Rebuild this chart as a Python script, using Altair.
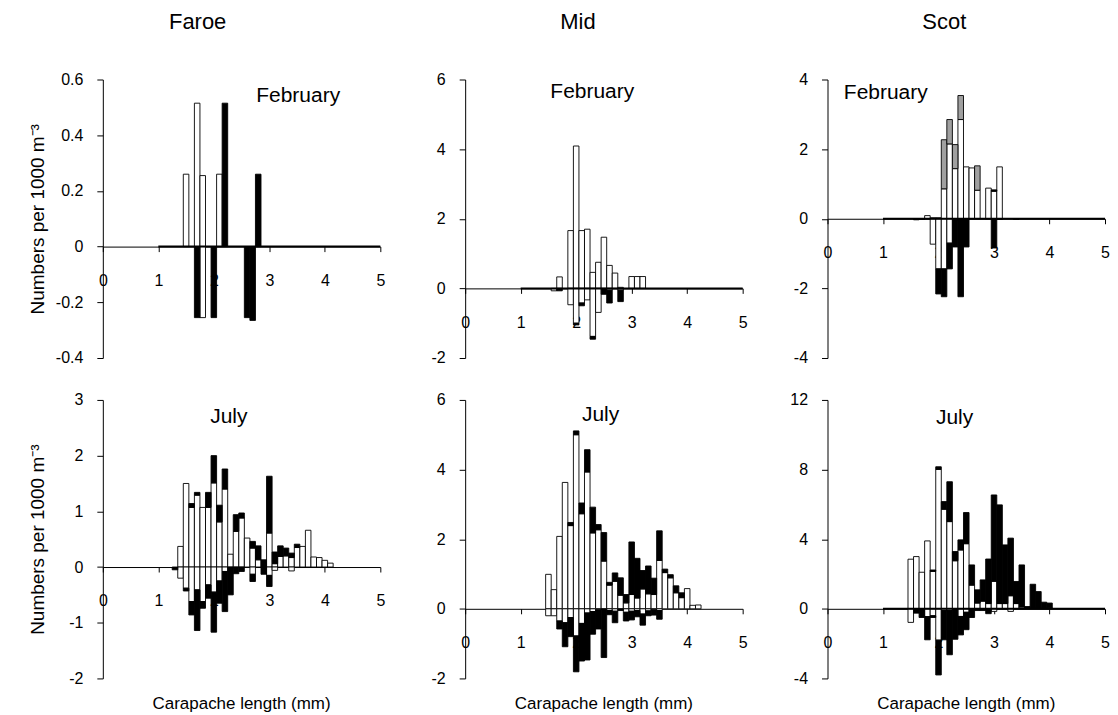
import altair as alt
import pandas as pd

FONT = "Liberation Sans"
W, H = 278, 279
X_TICKS = [0, 1, 2, 3, 4, 5]
HALF = 0.05

# ---------------- Faroe, February ----------------
FF_X = [1.5, 1.7, 1.8, 2.0, 2.1, 2.2, 2.6, 2.7, 2.8]
FF_PW = [0.26, 0.515, 0.255, 0, 0.26, 0, 0, 0, 0]
FF_PB = [0, 0, 0, 0, 0, 0.515, 0, 0, 0.26]
FF_NW = [0, 0, 0.255, 0, 0, 0, 0, 0, 0]
FF_NB = [0, 0.255, 0, 0.255, 0, 0, 0.255, 0.265, 0]
FF_TICKS = [-0.4, -0.2, 0, 0.2, 0.4, 0.6]

# ---------------- Mid, February ----------------
MF_X = [1.6, 1.7, 1.9, 2.0, 2.1, 2.2, 2.3, 2.4, 2.5, 2.6, 2.7, 2.8, 3.0, 3.1, 3.2]
MF_PW = [0, 0.33, 1.66, 4.09, 1.66, 1.70, 0.46, 0.75, 1.47, 0.66, 0.44, 0.03, 0.34, 0.34, 0.34]
MF_PB = [0] * 15
MF_NW = [0.07, 0, 0.47, 1.00, 0.42, 0.33, 1.38, 0.69, 0, 0.05, 0, 0.05, 0, 0, 0]
MF_NB = [0, 0.07, 0, 0.05, 0.08, 0, 0.08, 0, 0.17, 0.37, 0, 0.33, 0, 0, 0]
MF_TICKS = [-2, 0, 2, 4, 6]

# ---------------- Scot, February ----------------
SF_X = [1.6, 1.7, 1.8, 1.9, 2.0, 2.1, 2.2, 2.3, 2.4, 2.5, 2.6, 2.7, 2.9, 3.0, 3.1, 3.4]
SF_PW = [0, 0, 0.09, 0.03, 0.03, 0.86, 2.15, 1.44, 2.85, 1.49, 1.46, 0.82, 0.88, 0.79, 1.49, 0]
SF_PB = [0, 0, 0, 0, 0, 0, 0, 0, 0, 0, 0, 0, 0, 0.04, 0, 0]
SF_PG = [0, 0, 0, 0, 0, 1.41, 0.70, 0.69, 0.69, 0, 0, 0.70, 0, 0, 0, 0]
SF_NW = [0, 0, 0, 0.73, 1.44, 1.44, 0.70, 0.03, 0, 0, 0, 0, 0, 0, 0, 0]
SF_NB = [0.03, 0.02, 0, 0, 0.72, 0.80, 0.74, 0.78, 2.24, 0.81, 0, 0, 0, 0.84, 0.02, 0.02]
SF_TICKS = [-4, -2, 0, 2, 4]

# ---------------- Faroe, July ----------------
FJ_X = [1.3, 1.4, 1.5, 1.6, 1.7, 1.8, 1.9, 2.0, 2.1, 2.2, 2.3, 2.4, 2.5, 2.6, 2.7,
        2.8, 2.9, 3.0, 3.1, 3.2, 3.3, 3.4, 3.5, 3.6, 3.7, 3.8, 3.9, 4.0, 4.1]
FJ_PW = [0, 0.37, 1.50, 1.07, 1.29, 1.07, 1.07, 1.51, 0.81, 1.40, 0.23, 0.64, 0.88, 0.52, 0.34,
         0.13, 0, 0.61, 0.06, 0.19, 0.20, 0.17, 0.35, 0.37, 0.66, 0.18, 0.17, 0.12, 0.07]
FJ_PB = [0, 0, 0, 0.07, 0.05, 0, 0.27, 0.49, 0.30, 0.36, 0, 0.30, 0.09, 0, 0.12,
         0.25, 0.13, 1.02, 0.21, 0.19, 0.14, 0.08, 0.06, 0, 0, 0, 0, 0, 0]
FJ_NW = [0, 0.20, 0.38, 0.62, 0.41, 0.62, 0.32, 0.45, 0.25, 0.08, 0, 0, 0, 0, 0.13,
         0, 0, 0.15, 0.06, 0, 0, 0.07, 0, 0, 0, 0, 0, 0, 0]
FJ_NB = [0.05, 0, 0.05, 0.24, 0.73, 0.12, 0.24, 0.72, 0.40, 0.72, 0.50, 0.12, 0.08, 0, 0.13,
         0, 0.13, 0.20, 0, 0, 0, 0, 0, 0, 0, 0, 0, 0, 0]
FJ_TICKS = [-2, -1, 0, 1, 2, 3]

# ---------------- Mid, July ----------------
MJ_X = [1.5, 1.6, 1.7, 1.8, 1.9, 2.0, 2.1, 2.2, 2.3, 2.4, 2.5, 2.6, 2.7, 2.8,
        2.9, 3.0, 3.1, 3.2, 3.3, 3.4, 3.5, 3.6, 3.7, 3.8, 3.9, 4.0, 4.1, 4.2]
MJ_PW = [0.99, 0.55, 2.08, 3.63, 2.39, 5.00, 2.73, 3.93, 2.18, 2.27, 1.37, 0.68, 0.79, 0.39,
         0.17, 0.41, 0.31, 0.57, 0.43, 0.41, 1.39, 1.04, 0.89, 0.46, 0.32, 0.58, 0.10, 0.11]
MJ_PB = [0, 0, 0, 0, 0.09, 0.11, 0.31, 0.64, 0.74, 0.15, 0.82, 0.08, 0.24, 0.50,
         0.24, 1.51, 1.14, 0.53, 0.80, 0.47, 0.85, 0.10, 0.09, 0.20, 0.14, 0, 0, 0]
MJ_NW = [0.20, 0.20, 0.35, 0.40, 0.25, 0.78, 0.42, 0.12, 0.08, 0.03, 0, 0.05, 0.07, 0,
         0.10, 0.07, 0.05, 0.15, 0.06, 0.03, 0.05, 0, 0, 0, 0, 0, 0, 0]
MJ_NB = [0, 0, 0.23, 0.69, 0.55, 1.03, 1.08, 1.35, 0.65, 0.55, 1.40, 0.12, 0.33, 0.05,
         0.25, 0.25, 0.18, 0.32, 0.14, 0.15, 0.25, 0, 0, 0, 0, 0, 0, 0]
MJ_TICKS = [-2, 0, 2, 4, 6]

# ---------------- Scot, July ----------------
SJ_X = [1.5, 1.6, 1.7, 1.8, 1.9, 2.0, 2.1, 2.2, 2.3, 2.4, 2.5, 2.6, 2.7,
        2.8, 2.9, 3.0, 3.1, 3.2, 3.3, 3.4, 3.5, 3.6, 3.7, 3.8, 3.9, 4.0]
SJ_PW = [2.85, 3.00, 2.10, 3.90, 2.15, 8.01, 5.72, 5.01, 2.76, 3.38, 3.74, 1.36, 0.33,
         0.44, 0.30, 1.58, 0.30, 0.30, 0.75, 0.30, 0.10, 0, 0, 0, 0, 0.05]
SJ_PB = [0, 0, 0, 0, 0.08, 0.15, 0.44, 2.29, 0.53, 0.58, 1.79, 1.16, 0.76,
         1.22, 2.56, 4.96, 5.67, 3.37, 3.31, 1.27, 2.42, 0.13, 1.41, 0.99, 0.38, 0.28]
SJ_NW = [0.78, 0, 0, 0.45, 0.40, 1.80, 0.10, 0.10, 0, 0.44, 0.20, 0.05, 0,
         0, 0, 0.15, 0, 0, 0.15, 0, 0, 0, 0, 0, 0, 0]
SJ_NB = [0, 0.25, 0.50, 1.33, 0.10, 2.00, 1.68, 2.54, 1.75, 1.06, 1.00, 0.45, 0.10,
         0.10, 0.28, 0, 0, 0, 0, 0, 0, 0, 0, 0, 0, 0]
SJ_TICKS = [-4, 0, 4, 8, 12]

COLUMN_TITLES = ["Faroe", "Mid", "Scot"]
MONTHS = ["February", "July"]
Y_TITLE = "Numbers per 1000 m\u207b\u00b3"
X_TITLE = "Carapache length (mm)"

PANELS = [
    dict(x=FF_X, pw=FF_PW, pb=FF_PB, pg=None, nw=FF_NW, nb=FF_NB, ticks=FF_TICKS,
         month=MONTHS[0], mx=3.52, my=0.54, thick=True, col=0, row=0),
    dict(x=MF_X, pw=MF_PW, pb=MF_PB, pg=None, nw=MF_NW, nb=MF_NB, ticks=MF_TICKS,
         month=MONTHS[0], mx=2.29, my=5.65, thick=True, col=1, row=0),
    dict(x=SF_X, pw=SF_PW, pb=SF_PB, pg=SF_PG, nw=SF_NW, nb=SF_NB, ticks=SF_TICKS,
         month=MONTHS[0], mx=1.05, my=3.62, thick=True, col=2, row=0),
    dict(x=FJ_X, pw=FJ_PW, pb=FJ_PB, pg=None, nw=FJ_NW, nb=FJ_NB, ticks=FJ_TICKS,
         month=MONTHS[1], mx=2.27, my=2.70, thick=False, col=0, row=1),
    dict(x=MJ_X, pw=MJ_PW, pb=MJ_PB, pg=None, nw=MJ_NW, nb=MJ_NB, ticks=MJ_TICKS,
         month=MONTHS[1], mx=2.44, my=5.57, thick=False, col=1, row=1),
    dict(x=SJ_X, pw=SJ_PW, pb=SJ_PB, pg=None, nw=SJ_NW, nb=SJ_NB, ticks=SJ_TICKS,
         month=MONTHS[1], mx=2.29, my=10.96, thick=True, col=2, row=1),
]

TITLE_DX = [-44, -26, -22]
SEG_ORDER = {"white": 0, "black": 1, "grey": 2}


def build_rows(p):
    rows = []
    n = len(p["x"])
    series = [("white", p["pw"], 1), ("black", p["pb"], 1), ("white", p["nw"], -1), ("black", p["nb"], -1)]
    if p["pg"] is not None:
        series.append(("grey", p["pg"], 1))
    for seg, vals, sign in series:
        for i in range(n):
            v = vals[i]
            if v > 0:
                rows.append({"xc": p["x"][i], "seg": seg, "order": SEG_ORDER[seg], "value": sign * v})
    return pd.DataFrame(rows)


def make_panel(p):
    ymin, ymax = p["ticks"][0], p["ticks"][-1]
    zero_from_bottom = H * (0 - ymin) / (ymax - ymin)
    xaxis = alt.Axis(values=X_TICKS, offset=-zero_from_bottom, tickSize=5, labelPadding=21,
                     labelFlush=False, grid=False, title=None, labelFontSize=16,
                     labelFont=FONT, labelColor="black", domainColor="black",
                     tickColor="black", labelOverlap=False)
    ykw = dict(values=p["ticks"], tickSize=6, labelPadding=14, grid=False,
               labelFontSize=16, labelFont=FONT, labelColor="black",
               domainColor="black", tickColor="black",
               labelExpr="replace(format(datum.value, '~g'), '\u2212', '-')")
    if p["col"] == 0:
        yaxis = alt.Axis(title=Y_TITLE, titleFont=FONT, titleFontSize=19,
                         titleFontWeight="normal", titleColor="black", titleX=-55, **ykw)
    else:
        yaxis = alt.Axis(title=None, **ykw)
    xs = alt.Scale(domain=[0, 5], nice=False, zero=False)
    ys = alt.Scale(domain=[ymin, ymax], nice=False, zero=False)

    def X(f):
        return alt.X(f, type="quantitative", scale=xs, axis=xaxis)

    def Y(f):
        return alt.Y(f, type="quantitative", scale=ys, axis=yaxis)

    bars = alt.Chart(build_rows(p)).transform_stack(
        stack="value", groupby=["xc"], as_=["y0", "y1"], sort=[alt.SortField("order")]
    ).transform_calculate(
        x0=f"datum.xc - {HALF}", x1=f"datum.xc + {HALF}"
    ).mark_bar(stroke="black", strokeWidth=0.9).encode(
        x=X("x0"), x2="x1", y=Y("y0"), y2="y1",
        color=alt.Color("seg:N", legend=None,
                        scale=alt.Scale(domain=["white", "black", "grey"],
                                        range=["#ffffff", "#000000", "#a0a0a0"])),
    )
    layers = [bars]
    if p["thick"]:
        rule = alt.Chart(pd.DataFrame({"x0": [1.0], "x1": [5.0], "y0": [0.0]})).mark_rule(
            color="black", strokeWidth=2
        ).encode(x=X("x0"), x2="x1", y=Y("y0"))
        layers.append(rule)
    label = alt.Chart(pd.DataFrame({"x0": [p["mx"]], "y0": [p["my"]], "label": [p["month"]]})).mark_text(
        font=FONT, fontSize=21, align="center", baseline="middle", color="black"
    ).encode(x=X("x0"), y=Y("y0"), text="label:N")
    layers.append(label)

    props = dict(width=W, height=H)
    if p["row"] == 0:
        props["title"] = alt.TitleParams(COLUMN_TITLES[p["col"]], font=FONT, fontSize=22,
                                         fontWeight="normal", color="black", anchor="middle",
                                         frame="group", offset=38, dx=TITLE_DX[p["col"]])
    else:
        props["title"] = alt.TitleParams(X_TITLE, orient="bottom", font=FONT, fontSize=17,
                                         fontWeight="normal", color="black", anchor="middle",
                                         frame="group", offset=10)
    return alt.layer(*layers).properties(**props)


charts = [make_panel(p) for p in PANELS]
chart = alt.concat(*charts, columns=3, spacing={"row": 42, "column": 85}, bounds="flush").properties(
    padding={"left": 20, "top": 2, "right": 0, "bottom": 0}, background="white"
).configure_view(stroke=None)

chart.save("out.html", embed_options={"renderer": "svg", "actions": False})
